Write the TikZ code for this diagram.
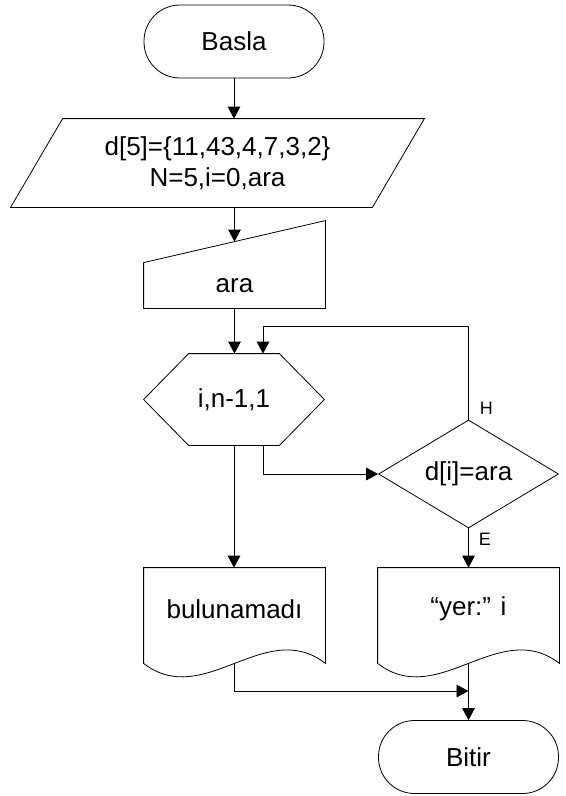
\documentclass[tikz,border=0pt]{standalone}
\usepackage{fontspec}
\setmainfont{Liberation Sans}
\usetikzlibrary{arrows.meta, positioning, shapes.geometric}
\begin{document}
\begin{tikzpicture}[x=0.75pt,y=-0.75pt,line width=0.6pt,font=\fontsize{19.5}{23}\selectfont,terminal/.style={draw,rounded corners=27pt,minimum width=135pt,minimum height=54.75pt,inner sep=0pt},shapebox/.style={inner sep=0pt,align=center},decision/.style={draw,diamond,aspect=1.67,minimum width=135pt,minimum height=81pt,inner sep=0pt},arrow/.style={-{Triangle[length=9pt,width=9.5pt]}},tag/.style={font=\fontsize{13.5}{16}\selectfont,inner sep=0pt}]
\useasboundingbox (0,0) rectangle (565,796);
\node[terminal] (basla) at (234,41.5){Basla};
\node[shapebox,minimum width=309.75pt,minimum height=66pt] (giris) at (217.5,163){d[5]=\{11,43,4,7,3,2\}\\N=5,i=0,ara};
\node[shapebox,minimum width=135.75pt,minimum height=33.75pt] (ara) at (234.5,285.5){ara};
\node[shapebox,minimum width=135pt,minimum height=68.25pt] (dongu) at (234,399.5){i,n-1,1};
\node[decision] (karar) at (468.5,474){d[i]=ara};
\node[shapebox,minimum width=135.75pt,minimum height=61.5pt] (bulun) at (234.5,609){bulunamadı};
\node[shapebox,minimum width=135.75pt,minimum height=61.5pt] (yer) at (468.5,609){“yer:” i};
\node[terminal] (bitir) at (468.5,757){Bitir};
\coordinate (birles) at (468.5,691);
\draw (giris.south west) -- ([xshift=39pt]giris.north west) -- (giris.north east) -- ([xshift=-39pt]giris.south east) -- cycle;
\draw (ara.south west) -- (ara.north west) -- ([yshift=31.5pt]ara.north east) -- (ara.south east) -- cycle;
\draw (dongu.west) -- ([xshift=33.75pt]dongu.north west) -- ([xshift=-33.75pt]dongu.north east) -- (dongu.east) -- ([xshift=-33.75pt]dongu.south east) -- ([xshift=33.75pt]dongu.south west) -- cycle;
\draw (bulun.north west) -- ([yshift=-9.75pt]bulun.south west) .. controls +(45.25pt,-35pt) and +(-45.25pt,35pt) .. ([yshift=-9.75pt]bulun.south east) -- (bulun.north east) -- cycle;
\draw (yer.north west) -- ([yshift=-9.75pt]yer.south west) .. controls +(45.25pt,-35pt) and +(-45.25pt,35pt) .. ([yshift=-9.75pt]yer.south east) -- (yer.north east) -- cycle;
\draw[arrow] (basla) -- (basla |- giris.north); \draw[arrow] (giris.south -| ara) -- ([yshift=15.75pt]ara.north); \draw[arrow] (ara.south) -- (ara.south |- dongu.north); \draw[arrow] (karar.north) node[tag,anchor=south west,xshift=8.25pt,yshift=3.75pt]{H} -- ++(0,-93) -| ([xshift=21.75pt]dongu.north); \draw[arrow] ([xshift=21.75pt]dongu.south) |- (karar.west); \draw[arrow] (dongu.south) -- (dongu.south |- bulun.north); \draw[arrow] (karar.south) node[tag,anchor=north west,xshift=7.5pt,yshift=-3pt]{E} -- (karar.south |- yer.north); \draw[arrow] ([yshift=-9.75pt]bulun.south) |- (birles); \draw[arrow] ([yshift=-9.75pt]yer.south) -- (bitir.north);
\end{tikzpicture}
\end{document}
